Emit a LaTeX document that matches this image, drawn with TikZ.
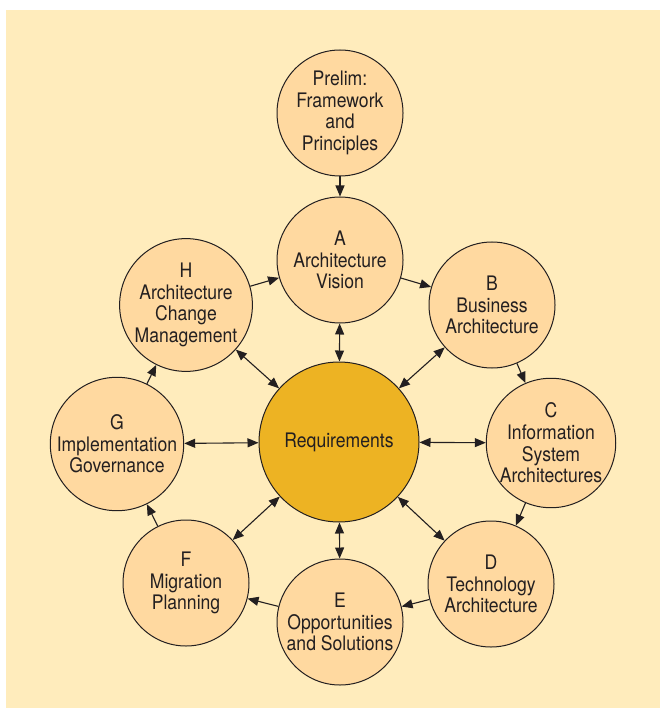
\documentclass[tikz,border=0pt]{standalone}
\usepackage{fontspec}
\setmainfont{TeX Gyre Heros}[FakeStretch=0.88]
\usetikzlibrary{arrows.meta}
\usepackage{xcolor}

\definecolor{bgyellow}{RGB}{255,236,188}
\definecolor{phasefill}{RGB}{255,217,160}
\definecolor{reqfill}{RGB}{237,179,35}
\definecolor{inkgray}{RGB}{35,31,32}

\begin{document}
\begin{tikzpicture}[x=1pt,y=-1pt,
		phase/.style={circle,draw=inkgray,line width=1pt,fill=phasefill,
			minimum size=126pt,inner sep=0pt,align=center,text=inkgray,
			font=\fontsize{20}{21.7}\selectfont},
		flow/.style={-{Triangle[length=11pt,width=9pt]},line width=1.1pt,draw=inkgray},
		both/.style={{Triangle[length=11pt,width=9pt]}-{Triangle[length=11pt,width=9pt]},
			line width=1.1pt,draw=inkgray}]
		
		% Page and background
		\useasboundingbox (0,0) rectangle (660,708);
		\fill[bgyellow] (6,10) rectangle (660,708);
		
		% Central circle
		\node[phase,fill=reqfill,minimum size=160pt] (req) at (339,442) {Requirements};
		
		% Phases round it
		\node[phase] (prelim) at (340,113) {Prelim:\\Framework\\and\\Principles};
		\node[phase] (A) at (340,260) {A\\Architecture\\Vision};
		\node[phase] (B) at (492,305) {B\\Business\\Architecture};
		\node[phase] (C) at (551,443) {C\\Information\\System\\Architectures};
		\node[phase] (D) at (491,584) {D\\Technology\\Architecture};
		\node[phase] (E) at (340,622) {E\\Opportunities\\and Solutions};
		\node[phase] (F) at (186,583) {F\\Migration\\Planning};
		\node[phase] (G) at (117,444) {G\\Implementation\\Governance};
		\node[phase] (H) at (186,305) {H\\Architecture\\Change\\Management};
		
		% Entry into the cycle
		\draw[flow] (prelim) -- (A);
		
		% Cycle A to H
		\foreach \a/\b in {A/B,B/C,C/D,D/E,E/F,F/G,G/H,H/A}
		\draw[flow] (\a) -- (\b);
		
		% Every phase talks to the requirements
		\foreach \p in {A,B,C,D,E,F,G,H}
		\draw[both] (req) -- (\p);
		
	\end{tikzpicture}
\end{document}
